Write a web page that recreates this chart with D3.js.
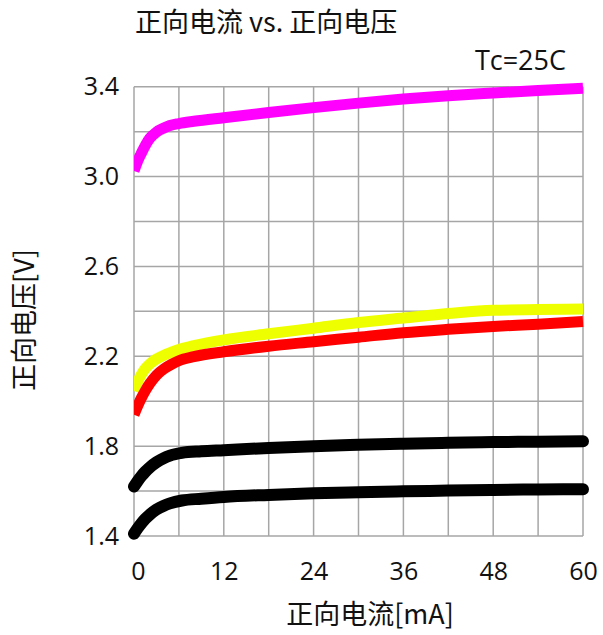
<!DOCTYPE html>
<html>
<head>
<meta charset="utf-8">
<script src="https://cdn.jsdelivr.net/npm/d3@7"></script>
<style>
  html, body { margin: 0; padding: 0; background: #fff; }
  svg { display: block; }
  text { font-family: "Open Sans", "Noto Sans CJK SC", sans-serif; fill: #111; }
  .cjk { font-family: "Noto Sans CJK SC", "Open Sans", sans-serif; }
</style>
</head>
<body>
<script>
// ---- data ----
const xTicks = [0, 12, 24, 36, 48, 60];
const yTicks = [1.4, 1.8, 2.2, 2.6, 3.0, 3.4];
const xGrid = [0, 6, 12, 18, 24, 30, 36, 42, 48, 54, 60];
const yGrid = [1.4, 1.6, 1.8, 2.0, 2.2, 2.4, 2.6, 2.8, 3.0, 3.2, 3.4];

const magentaCurrent = [0, 0.5, 1, 1.5, 2.1, 3, 4, 4.8, 6, 8, 12, 18, 24, 30, 36, 42, 48, 54, 60];
const magentaVoltage = [3.025, 3.07, 3.105, 3.138, 3.17, 3.198, 3.216, 3.227, 3.236, 3.246, 3.262, 3.285, 3.307, 3.327, 3.345, 3.36, 3.372, 3.383, 3.393];

const yellowCurrent = [0, 0.5, 1, 1.5, 2.1, 3, 4, 5, 6, 8, 12, 18, 24, 30, 36, 42, 48, 54, 60];
const yellowVoltage = [2.045, 2.088, 2.12, 2.145, 2.166, 2.188, 2.205, 2.218, 2.23, 2.247, 2.273, 2.3, 2.325, 2.35, 2.37, 2.39, 2.405, 2.408, 2.41];

const redCurrent = [0, 0.5, 1, 1.5, 2.1, 3, 4, 5, 6, 8, 12, 18, 24, 30, 36, 42, 48, 54, 60];
const redVoltage = [1.94, 1.98, 2.015, 2.046, 2.078, 2.116, 2.144, 2.164, 2.18, 2.198, 2.22, 2.245, 2.265, 2.285, 2.305, 2.32, 2.333, 2.343, 2.355];

const black1Current = [0, 0.5, 1, 1.5, 2.1, 3, 4, 4.8, 6.4, 9, 12, 18, 24, 30, 36, 42, 48, 54, 60];
const black1Voltage = [1.62, 1.645, 1.667, 1.686, 1.705, 1.728, 1.747, 1.758, 1.77, 1.777, 1.782, 1.792, 1.8, 1.806, 1.811, 1.815, 1.818, 1.82, 1.822];

const black2Current = [0, 0.5, 1, 1.5, 2.1, 3, 4, 4.8, 6.4, 9, 12, 18, 24, 30, 36, 42, 48, 54, 60];
const black2Voltage = [1.41, 1.435, 1.457, 1.476, 1.495, 1.518, 1.535, 1.545, 1.558, 1.566, 1.574, 1.583, 1.59, 1.595, 1.599, 1.602, 1.605, 1.607, 1.608];

const title = "正向电流 vs. 正向电压";
const note = "Tc=25C";
const xTitle = "正向电流[mA]";
const yTitle = "正向电压[V]";

// ---- layout ----
const W = 603, H = 635;
const margin = { left: 134, top: 86.7, right: 20, bottom: 99 };
const pw = W - margin.left - margin.right;
const ph = H - margin.top - margin.bottom;

const svg = d3.select("body").append("svg").attr("width", W).attr("height", H);

const x = d3.scaleLinear().domain([0, 60]).range([0, pw]);
const y = d3.scaleLinear().domain([1.4, 3.4]).range([ph, 0]);

const g = svg.append("g").attr("transform", `translate(${margin.left},${margin.top})`);

svg.append("defs").append("clipPath").attr("id", "clip")
  .append("rect").attr("x", 0).attr("y", -20).attr("width", pw + 1).attr("height", ph + 40);

// grid
g.append("g").selectAll("line").data(xGrid).join("line")
  .attr("x1", d => x(d)).attr("x2", d => x(d))
  .attr("y1", 0).attr("y2", ph)
  .attr("stroke", "#a6a6a6").attr("stroke-width", 1.5);
g.append("g").selectAll("line").data(yGrid).join("line")
  .attr("y1", d => y(d)).attr("y2", d => y(d))
  .attr("x1", 0).attr("x2", pw)
  .attr("stroke", "#a6a6a6").attr("stroke-width", 1.5);

// axes (labels only)
const xAxis = d3.axisBottom(x).tickValues(xTicks).tickSize(0).tickPadding(0).tickFormat(d3.format("d"));
const xg = g.append("g").attr("transform", `translate(0,${ph})`).call(xAxis);
xg.select(".domain").remove();
xg.selectAll("text").attr("dy", null).attr("y", 44)
  .attr("dx", d => d === 0 ? 4 : 0)
  .style("font-size", "25px").style("font-family", "'Open Sans', sans-serif").attr("fill", "#111");

const yAxis = d3.axisLeft(y).tickValues(yTicks).tickSize(0).tickPadding(15).tickFormat(d3.format(".1f"));
const yg = g.append("g").call(yAxis);
yg.select(".domain").remove();
yg.selectAll("text").attr("dy", "0.32em")
  .style("font-size", "25px").style("font-family", "'Open Sans', sans-serif").attr("fill", "#111");

// series
const line = d3.line().x(d => x(d[0])).y(d => y(d[1])).curve(d3.curveMonotoneX);
const series = [
  { c: magentaCurrent, v: magentaVoltage, color: "#ff00ff", w: 11, cap: "butt", clip: true },
  { c: yellowCurrent, v: yellowVoltage, color: "#eeff00", w: 11, cap: "butt", clip: true },
  { c: redCurrent, v: redVoltage, color: "#ff0000", w: 11, cap: "butt", clip: true },
  { c: black1Current, v: black1Voltage, color: "#000000", w: 12, cap: "round", clip: false },
  { c: black2Current, v: black2Voltage, color: "#000000", w: 12, cap: "round", clip: false }
];
series.forEach(s => {
  const pts = s.c.map((c, i) => [c, s.v[i]]);
  const p = g.append("path").datum(pts)
    .attr("d", line)
    .attr("fill", "none")
    .attr("stroke", s.color)
    .attr("stroke-width", s.w)
    .attr("stroke-linecap", s.cap)
    .attr("stroke-linejoin", "round");
  if (s.clip) p.attr("clip-path", "url(#clip)");
});

// texts
svg.append("text").attr("class", "cjk").attr("x", 135).attr("y", 32)
  .style("font-size", "27px").text(title);
svg.append("text").attr("x", 566).attr("y", 70).attr("text-anchor", "end")
  .style("font-size", "27px").text(note);
svg.append("text").attr("class", "cjk").attr("x", 370).attr("y", 624).attr("text-anchor", "middle")
  .style("font-size", "27px").text(xTitle);
svg.append("text").attr("class", "cjk")
  .attr("transform", `translate(34,320) rotate(-90)`).attr("text-anchor", "middle")
  .style("font-size", "27px").text(yTitle);
</script>
</body>
</html>
